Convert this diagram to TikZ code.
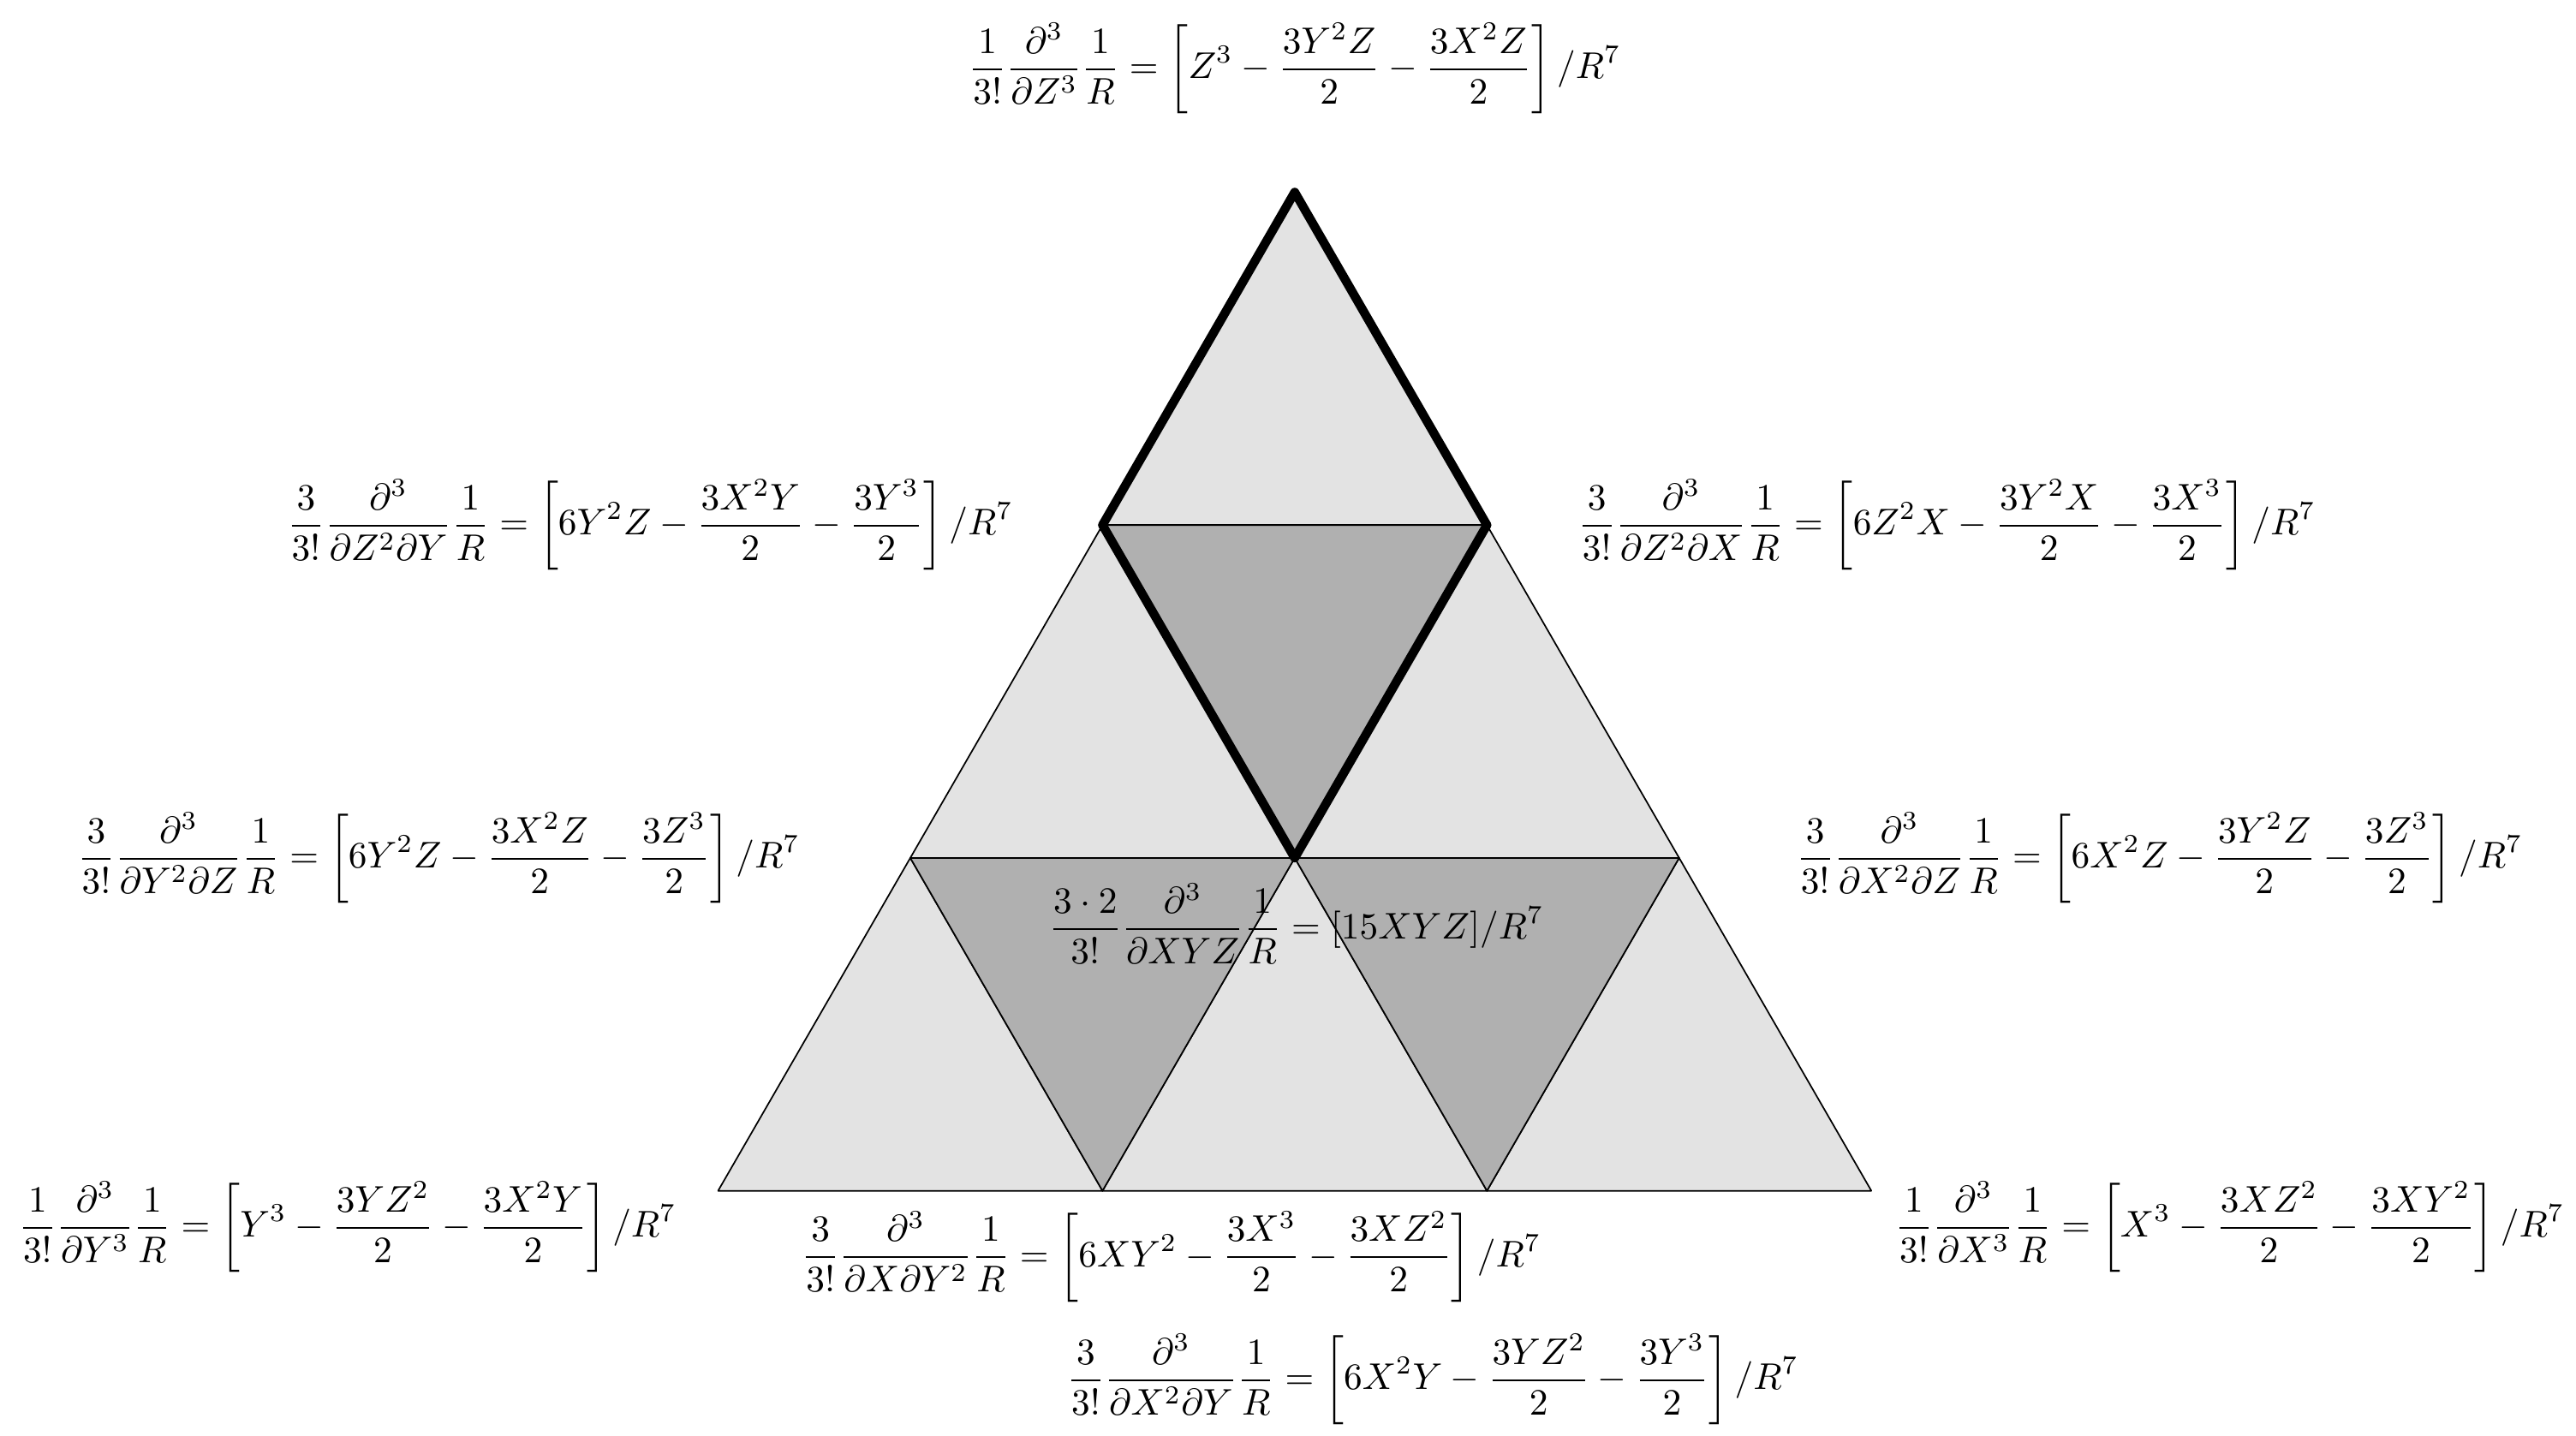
\documentclass[tikz,border=0pt]{standalone}
\usepackage{amsmath}
\begin{document}
\begin{tikzpicture}[x=3.64cm, y=3.64cm, line join=round, line cap=round]
			\def\h{0.866}
			\tikzset{light/.style={fill=black!11, draw=black, thin},
				dark/.style={fill=black!31, draw=black, thin},
				eq/.style={inner sep=0pt, font=\normalsize}}
			\useasboundingbox (-1.868,-0.637) rectangle (4.833,3.098);
			\coordinate (BL) at (0,0);
			\coordinate (B1) at (1,0);
			\coordinate (B2) at (2,0);
			\coordinate (BR) at (3,0);
			\coordinate (L2) at (0.5,\h);
			\coordinate (M) at (1.5,\h);
			\coordinate (R2) at (2.5,\h);
			\coordinate (L1) at (1,2*\h);
			\coordinate (R1) at (2,2*\h);
			\coordinate (T) at (1.5,3*\h);
			\foreach \a/\b/\c in {BL/B1/L2, B1/B2/M, B2/BR/R2, L2/M/L1, M/R2/R1, L1/R1/T}
				\draw[light] (\a)--(\b)--(\c)--cycle;
			\foreach \a/\b/\c in {L2/M/B1, M/R2/B2, L1/R1/M}
				\draw[dark] (\a)--(\b)--(\c)--cycle;
			\draw[line width=2.4pt] (L1)--(T)--(R1)--(M)--cycle;
			\draw[thin] (L1)--(R1);
			\node[eq] (lzzz) at (1.5,2.92) {$\displaystyle \frac{1}{3!}\frac{\partial^3}{\partial Z^3}\frac{1}{R}=\left[Z^3-\frac{3Y^2Z}{2}-\frac{3X^2Z}{2}\right]/R^7$};
			\node[eq, anchor=east] (lzzy) at (0.769,2*\h) {$\displaystyle \frac{3}{3!}\frac{\partial^3}{\partial Z^2\partial Y}\frac{1}{R}=\left[6Y^2Z-\frac{3X^2Y}{2}-\frac{3Y^3}{2}\right]/R^7$};
			\node[eq, anchor=west] (lzzx) at (2.235,2*\h) {$\displaystyle \frac{3}{3!}\frac{\partial^3}{\partial Z^2\partial X}\frac{1}{R}=\left[6Z^2X-\frac{3Y^2X}{2}-\frac{3X^3}{2}\right]/R^7$};
			\node[eq, anchor=east] (lyyz) at (0.214,\h) {$\displaystyle \frac{3}{3!}\frac{\partial^3}{\partial Y^2\partial Z}\frac{1}{R}=\left[6Y^2Z-\frac{3X^2Z}{2}-\frac{3Z^3}{2}\right]/R^7$};
			\node[eq, anchor=west] (lxxz) at (2.803,\h) {$\displaystyle \frac{3}{3!}\frac{\partial^3}{\partial X^2\partial Z}\frac{1}{R}=\left[6X^2Z-\frac{3Y^2Z}{2}-\frac{3Z^3}{2}\right]/R^7$};
			\node[eq] (lxyz) at (1.504,0.695) {$\displaystyle \frac{3\cdot2}{3!}\frac{\partial^3}{\partial XYZ}\frac{1}{R}=[15XYZ]/R^7$};
			\node[eq, anchor=east] (lyyy) at (-0.107,-0.094) {$\displaystyle \frac{1}{3!}\frac{\partial^3}{\partial Y^3}\frac{1}{R}=\left[Y^3-\frac{3YZ^2}{2}-\frac{3X^2Y}{2}\right]/R^7$};
			\node[eq, anchor=west] (lxxx) at (3.06,-0.094) {$\displaystyle \frac{1}{3!}\frac{\partial^3}{\partial X^3}\frac{1}{R}=\left[X^3-\frac{3XZ^2}{2}-\frac{3XY^2}{2}\right]/R^7$};
			\node[eq] (lxyy) at (1.179,-0.171) {$\displaystyle \frac{3}{3!}\frac{\partial^3}{\partial X\partial Y^2}\frac{1}{R}=\left[6XY^2-\frac{3X^3}{2}-\frac{3XZ^2}{2}\right]/R^7$};
			\node[eq] (lxxy) at (1.859,-0.491) {$\displaystyle \frac{3}{3!}\frac{\partial^3}{\partial X^2\partial Y}\frac{1}{R}=\left[6X^2Y-\frac{3YZ^2}{2}-\frac{3Y^3}{2}\right]/R^7$};
		\end{tikzpicture}
\end{document}
